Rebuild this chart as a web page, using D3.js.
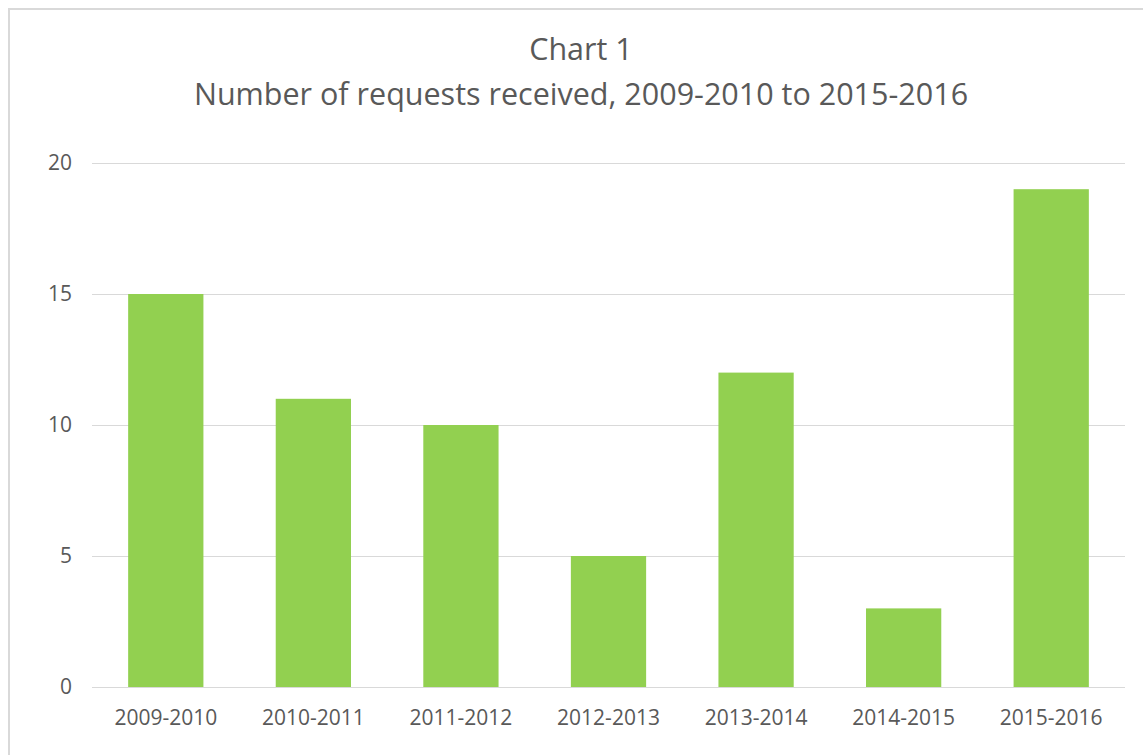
<!DOCTYPE html>
<html>
<head>
<meta charset="utf-8">
<script src="https://cdn.jsdelivr.net/npm/d3@7"></script>
<style>
  body { margin: 0; background: #fff; }
  text { font-family: "Open Sans", "Noto Sans", sans-serif; fill: #595959; }
</style>
</head>
<body>
<div id="chart"></div>
<script>
// chart data
const years = ["2009-2010", "2010-2011", "2011-2012", "2012-2013", "2013-2014", "2014-2015", "2015-2016"];
const requests = [15, 11, 10, 5, 12, 3, 19];
const yTicks = [0, 5, 10, 15, 20];
const titleLines = ["Chart 1", "Number of requests received, 2009-2010 to 2015-2016"];

const W = 1143, H = 755;
const margin = {top: 163, right: 18, bottom: 68, left: 92};
const width = W - margin.left - margin.right;
const height = H - margin.top - margin.bottom;

const svg = d3.select("#chart").append("svg")
    .attr("width", W).attr("height", H);

// outer frame
svg.append("rect")
    .attr("x", 9).attr("y", 9)
    .attr("width", W + 10).attr("height", H + 10)
    .attr("fill", "none")
    .attr("stroke", "#d9d9d9")
    .attr("stroke-width", 2);

// titles
svg.append("text")
    .attr("x", 581).attr("y", 60)
    .attr("text-anchor", "middle")
    .style("font-size", "30.5px")
    .text(titleLines[0]);
svg.append("text")
    .attr("x", 581).attr("y", 105)
    .attr("text-anchor", "middle")
    .style("font-size", "30.5px")
    .text(titleLines[1]);

const g = svg.append("g")
    .attr("transform", "translate(" + margin.left + "," + margin.top + ")");

const x = d3.scaleBand().domain(years).range([0, width]).paddingInner(0.49).paddingOuter(0.245);
const y = d3.scaleLinear().domain([0, 20]).range([height, 0]);

// gridlines
g.selectAll("line.grid")
    .data(yTicks)
    .enter().append("line")
    .attr("class", "grid")
    .attr("x1", 0).attr("x2", width)
    .attr("y1", d => Math.round(y(d)) + 0.5)
    .attr("y2", d => Math.round(y(d)) + 0.5)
    .attr("stroke", "#d9d9d9")
    .attr("stroke-width", 1);

// bars
g.selectAll("rect.bar")
    .data(requests)
    .enter().append("rect")
    .attr("class", "bar")
    .attr("x", (d, i) => x(years[i]))
    .attr("y", d => y(d))
    .attr("width", x.bandwidth())
    .attr("height", d => height - y(d))
    .attr("fill", "#92d050");

// y axis
const yAxis = g.append("g")
    .call(d3.axisLeft(y).tickValues(yTicks).tickSize(0).tickPadding(20));
yAxis.select(".domain").remove();
yAxis.selectAll("text").style("font-size", "21px");

// x axis
const xAxis = g.append("g")
    .attr("transform", "translate(0," + height + ")")
    .call(d3.axisBottom(x).tickSize(0).tickPadding(23));
xAxis.select(".domain").remove();
xAxis.selectAll("text").style("font-size", "21px");
</script>
</body>
</html>
